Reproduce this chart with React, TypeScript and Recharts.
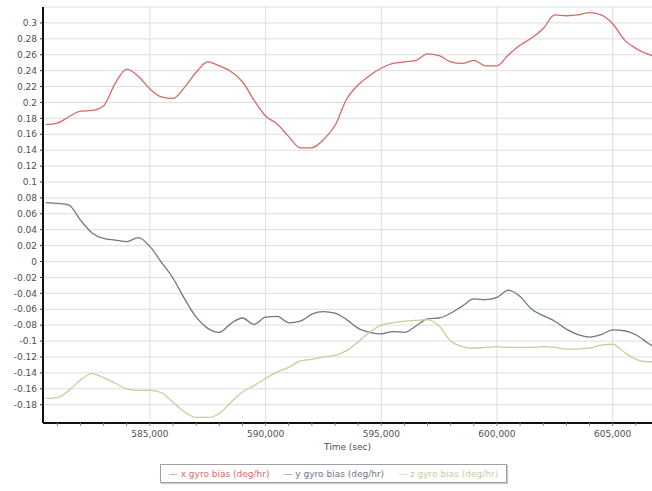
import { LineChart, Line, XAxis, YAxis, CartesianGrid, Label, ReferenceLine } from "recharts";

const times = [
  580500, 581000, 581500, 582000, 582500, 583000, 583500, 584000, 584500, 585000,
  585500, 586000, 586500, 587000, 587500, 588000, 588500, 589000, 589500, 590000,
  590500, 591000, 591500, 592000, 592500, 593000, 593500, 594000, 594500, 595000,
  595500, 596000, 596500, 597000, 597500, 598000, 598500, 599000, 599500, 600000,
  600500, 601000, 601500, 602000, 602500, 603000, 603500, 604000, 604500, 605000,
  605500, 606000, 606500, 606700,
];

const xGyro = [
  0.172, 0.174, 0.182, 0.189, 0.19, 0.196, 0.224, 0.242, 0.233, 0.217,
  0.207, 0.205, 0.219, 0.238, 0.251, 0.246, 0.239, 0.226, 0.203, 0.183,
  0.173, 0.157, 0.143, 0.143, 0.153, 0.171, 0.204, 0.222, 0.234, 0.243,
  0.249, 0.251, 0.253, 0.261, 0.259, 0.251, 0.249, 0.253, 0.246, 0.246,
  0.26, 0.272, 0.281, 0.293, 0.31, 0.309, 0.31, 0.313, 0.31, 0.299,
  0.279, 0.268, 0.261, 0.259,
];

const yGyro = [
  0.074, 0.073, 0.071, 0.052, 0.036, 0.029, 0.027, 0.025, 0.03, 0.019,
  -0.001, -0.021, -0.047, -0.07, -0.084, -0.089, -0.078, -0.071, -0.079, -0.07,
  -0.069, -0.077, -0.075, -0.066, -0.063, -0.065, -0.073, -0.084, -0.089, -0.091,
  -0.088, -0.089, -0.081, -0.072, -0.071, -0.065, -0.056, -0.047, -0.048, -0.045,
  -0.036, -0.044, -0.06, -0.068, -0.075, -0.085, -0.092, -0.095, -0.092, -0.086,
  -0.087, -0.092, -0.102, -0.106,
];

const zGyro = [
  -0.172, -0.171, -0.162, -0.149, -0.141, -0.146, -0.153, -0.16, -0.162, -0.162,
  -0.165, -0.177, -0.189, -0.196, -0.196, -0.191, -0.177, -0.164, -0.156, -0.147,
  -0.139, -0.133, -0.125, -0.123, -0.12, -0.118, -0.112, -0.101, -0.089, -0.08,
  -0.077, -0.075, -0.074, -0.073, -0.081, -0.1, -0.107, -0.109, -0.108, -0.107,
  -0.108, -0.108, -0.108, -0.107, -0.108, -0.11, -0.11, -0.109, -0.105, -0.104,
  -0.114, -0.123, -0.126, -0.126,
];

const yTicks = [
  -0.18, -0.16, -0.14, -0.12, -0.1, -0.08, -0.06, -0.04, -0.02, 0, 0.02, 0.04,
  0.06, 0.08, 0.1, 0.12, 0.14, 0.16, 0.18, 0.2, 0.22, 0.24, 0.26, 0.28, 0.3,
];
const xTicks = [585000, 590000, 595000, 600000, 605000];
const xMinorTicks = [
  581000, 582000, 583000, 584000, 585000, 586000, 587000, 588000, 589000,
  590000, 591000, 592000, 593000, 594000, 595000, 596000, 597000, 598000,
  599000, 600000, 601000, 602000, 603000, 604000, 605000, 606000,
];

const series = [
  { key: "x", name: "x gyro bias (deg/hr)", color: "#d66a68" },
  { key: "y", name: "y gyro bias (deg/hr)", color: "#6d7888" },
  { key: "z", name: "z gyro bias (deg/hr)", color: "#c4d09a" },
];

const chartData = times.map((t, i) => ({
  t,
  x: xGyro[i],
  y: yGyro[i],
  z: zGyro[i],
}));

const xDomain = [580380, 606700];
const font = "DejaVu Sans";

const fmtY = (v: number) => String(Number(v.toFixed(2)));

// only every 5000 s gets a label, the 1000 s ticks stay bare
const TimeTick = (props: any) => {
  const { x, y, payload } = props;
  if (!xTicks.includes(payload.value)) return <g />;
  return (
    <text x={x} y={y} dy="0.71em" textAnchor="middle" fontFamily={font} fontSize={9} fill="#505050">
      {payload.value.toLocaleString("en-US")}
    </text>
  );
};

export default function App() {
  return (
    <div style={{ position: "absolute", left: 0, top: 0, width: 652, height: 491, background: "#fff" }}>
      <LineChart
        width={652}
        height={491}
        data={chartData}
        margin={{ top: 7, right: 0, bottom: 38, left: 0 }}
      >
        <CartesianGrid vertical={false} stroke="#dedede" />
        {xTicks.map((v) => (
          <ReferenceLine key={v} x={v} stroke="#dedede" />
        ))}
        <XAxis
          dataKey="t"
          type="number"
          domain={xDomain}
          allowDataOverflow
          ticks={xMinorTicks}
          interval={0}
          height={30}
          tickSize={3}
          tickMargin={5}
          tickLine={{ stroke: "#888" }}
          axisLine={{ stroke: "#111", strokeWidth: 2 }}
          tick={<TimeTick />}
        >
          <Label
            value="Time (sec)"
            position="insideBottom"
            offset={3}
            style={{ fontFamily: font, fontSize: 9, fill: "#505050" }}
          />
        </XAxis>
        <XAxis
          xAxisId="top"
          orientation="top"
          dataKey="t"
          type="number"
          domain={xDomain}
          allowDataOverflow
          height={0}
          tick={false}
          tickLine={false}
          axisLine={{ stroke: "#8a8a8a", strokeWidth: 1.5 }}
        />
        <YAxis
          type="number"
          domain={[-0.203, 0.32]}
          allowDataOverflow
          ticks={yTicks}
          interval={0}
          width={43}
          tickSize={3}
          tickMargin={3}
          tickLine={{ stroke: "#333" }}
          axisLine={{ stroke: "#111", strokeWidth: 2 }}
          tick={{ fontFamily: font, fontSize: 9, fill: "#505050" }}
          tickFormatter={fmtY}
        />
        {series.map((s) => (
          <Line
            key={s.key}
            type="monotone"
            dataKey={s.key}
            name={s.name}
            stroke={s.color}
            strokeWidth={1.3}
            dot={false}
            isAnimationActive={false}
          />
        ))}
      </LineChart>
      <div
        style={{
          position: "absolute",
          left: 160,
          top: 464,
          width: 345,
          height: 17,
          border: "1px solid #a0a0a0",
          boxShadow: "1px 1px 1px #ccc",
          display: "flex",
          alignItems: "center",
          justifyContent: "center",
          gap: 14,
          fontFamily: font,
          fontSize: 9,
          whiteSpace: "nowrap",
        }}
      >
        {series.map((s) => (
          <span key={s.key} style={{ color: s.color }}>
            — {s.name}
          </span>
        ))}
      </div>
    </div>
  );
}
